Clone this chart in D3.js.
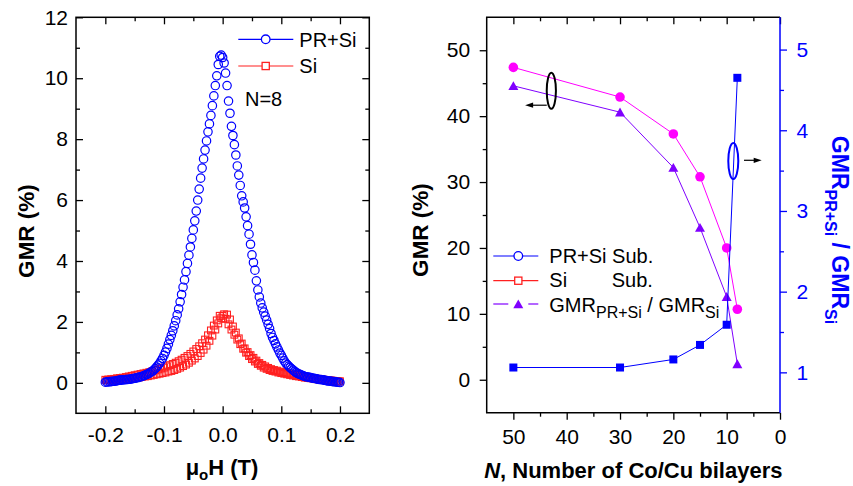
<!DOCTYPE html>
<html>
<head>
<meta charset="utf-8">
<script src="https://cdn.jsdelivr.net/npm/d3@7"></script>
<style>
  body { margin: 0; background: #fff; }
  svg { font-family: "Liberation Sans", Arial, Helvetica, sans-serif; }
</style>
</head>
<body>
<svg id="chart" width="853" height="486"></svg>
<script>
// ---------- Left panel: GMR vs applied field, N = 8 ----------
// Two field sweeps, sampled every 5 mT, interleaved by 2.5 mT
const fieldSweepA = [-0.2,-0.195,-0.19,-0.185,-0.18,-0.175,-0.17,-0.165,-0.16,-0.155,-0.15,-0.145,-0.14,-0.135,-0.13,-0.125,-0.12,-0.115,-0.11,-0.105,-0.1,-0.095,-0.09,-0.085,-0.08,-0.075,-0.07,-0.065,-0.06,-0.055,-0.05,-0.045,-0.04,-0.035,-0.03,-0.025,-0.02,-0.015,-0.01,-0.005,0,0.005,0.01,0.015,0.02,0.025,0.03,0.035,0.04,0.045,0.05,0.055,0.06,0.065,0.07,0.075,0.08,0.085,0.09,0.095,0.1,0.105,0.11,0.115,0.12,0.125,0.13,0.135,0.14,0.145,0.15,0.155,0.16,0.165,0.17,0.175,0.18,0.185,0.19,0.195,0.2];
const fieldSweepB = [-0.1975,-0.1925,-0.1875,-0.1825,-0.1775,-0.1725,-0.1675,-0.1625,-0.1575,-0.1525,-0.1475,-0.1425,-0.1375,-0.1325,-0.1275,-0.1225,-0.1175,-0.1125,-0.1075,-0.1025,-0.0975,-0.0925,-0.0875,-0.0825,-0.0775,-0.0725,-0.0675,-0.0625,-0.0575,-0.0525,-0.0475,-0.0425,-0.0375,-0.0325,-0.0275,-0.0225,-0.0175,-0.0125,-0.0075,-0.0025,0.0025,0.0075,0.0125,0.0175,0.0225,0.0275,0.0325,0.0375,0.0425,0.0475,0.0525,0.0575,0.0625,0.0675,0.0725,0.0775,0.0825,0.0875,0.0925,0.0975,0.1025,0.1075,0.1125,0.1175,0.1225,0.1275,0.1325,0.1375,0.1425,0.1475,0.1525,0.1575,0.1625,0.1675,0.1725,0.1775,0.1825,0.1875,0.1925,0.1975];

const gmrPRSiSweepA = [
  0.02,0.03,0.04,0.05,0.07,0.09,0.10,0.11,0.12,0.13,
  0.15,0.17,0.20,0.23,0.27,0.32,0.38,0.47,0.58,0.72,
  0.90,1.13,1.42,1.71,2.04,2.43,2.90,3.38,3.92,4.46,
  5.02,5.64,6.36,7.05,7.64,8.24,8.78,9.42,10.08,10.72,
  10.68,10.17,9.25,8.42,7.82,7.12,6.48,5.94,5.45,4.88,
  4.20,3.70,3.05,2.62,2.32,2.06,1.78,1.49,1.28,1.08,
  0.90,0.72,0.60,0.50,0.42,0.34,0.29,0.25,0.21,0.19,
  0.17,0.15,0.13,0.11,0.10,0.08,0.06,0.05,0.04,0.02,
  0.01];
const gmrPRSiSweepB = [
  0.03,0.04,0.05,0.06,0.08,0.09,0.10,0.11,0.12,0.14,
  0.16,0.18,0.21,0.25,0.29,0.35,0.42,0.52,0.64,0.80,
  1.01,1.27,1.56,1.87,2.23,2.66,3.14,3.65,4.19,4.74,
  5.32,6.00,6.72,7.35,7.94,8.50,9.10,9.76,10.45,10.76,
  10.50,9.76,8.85,8.12,7.48,6.82,6.14,5.74,5.16,4.55,
  3.95,3.35,2.82,2.46,2.19,1.92,1.62,1.39,1.18,0.98,
  0.81,0.65,0.55,0.46,0.38,0.31,0.27,0.23,0.20,0.18,
  0.16,0.14,0.12,0.11,0.09,0.07,0.06,0.04,0.03,0.02];
const gmrSiSweepA = [
  0.10,0.11,0.12,0.13,0.15,0.16,0.17,0.19,0.21,0.23,
  0.25,0.27,0.29,0.31,0.33,0.35,0.38,0.41,0.44,0.47,
  0.50,0.54,0.58,0.62,0.66,0.71,0.76,0.82,0.88,0.95,
  1.03,1.11,1.20,1.30,1.42,1.56,1.72,1.88,2.05,2.20,
  2.20,2.10,1.92,1.75,1.58,1.42,1.27,1.12,0.99,0.88,
  0.78,0.70,0.62,0.56,0.50,0.46,0.42,0.39,0.37,0.34,
  0.32,0.30,0.28,0.26,0.24,0.22,0.21,0.19,0.17,0.16,
  0.15,0.14,0.12,0.11,0.10,0.09,0.08,0.07,0.06,0.05,
  0.05];
const gmrSiSweepB = [
  0.08,0.09,0.09,0.10,0.11,0.12,0.13,0.14,0.15,0.16,
  0.17,0.18,0.20,0.21,0.22,0.24,0.26,0.28,0.30,0.32,
  0.34,0.37,0.39,0.42,0.46,0.50,0.55,0.60,0.66,0.73,
  0.80,0.88,0.98,1.09,1.22,1.38,1.55,1.75,1.95,2.12,
  2.25,2.24,2.08,1.85,1.65,1.46,1.29,1.13,1.01,0.91,
  0.82,0.73,0.65,0.59,0.54,0.49,0.45,0.42,0.40,0.37,
  0.35,0.33,0.31,0.28,0.26,0.24,0.22,0.20,0.19,0.17,
  0.16,0.14,0.13,0.12,0.10,0.09,0.08,0.07,0.06,0.05];

const fieldTicks = [-0.2, -0.1, 0.0, 0.1, 0.2];
const fieldMinorTicks = [-0.15, -0.05, 0.05, 0.15];
const gmrFieldTicks = [0, 2, 4, 6, 8, 10, 12];
const gmrFieldMinorTicks = [1, 3, 5, 7, 9, 11];
const fieldLegend = ["PR+Si", "Si"];

// ---------- Right panel: GMR vs number of Co/Cu bilayers ----------
const nBilayers = [50, 30, 20, 15, 10, 8];
const gmrPRSiSub = [47.4, 42.9, 37.3, 30.8, 20.0, 10.7];
const gmrSiSub = [44.6, 40.6, 32.2, 23.1, 12.6, 2.4];
const gmrRatio = [1.06, 1.06, 1.16, 1.34, 1.59, 4.65];

const nTicks = [50, 40, 30, 20, 10, 0];
const nMinorTicks = [45, 35, 25, 15, 5];
const gmrNTicks = [0, 10, 20, 30, 40, 50];
const gmrNMinorTicks = [5, 15, 25, 35, 45];
const ratioTicks = [1, 2, 3, 4, 5];
const ratioMinorTicks = [1.5, 2.5, 3.5, 4.5];

// ---------- drawing ----------
const svg = d3.select("#chart");
const FONT = '"Liberation Sans", Arial, Helvetica, sans-serif';
const BLUE = "#0000ff", RED = "#ff2020", MAGENTA = "#ff00ff", PURPLE = "#8000ff";

const L = { x0: 76, x1: 369.3, y0: 17.3, y1: 413.3 };
const R = { x0: 486.7, x1: 780, y0: 17.3, y1: 412.7 };

function styleAxis(g, color, size) {
  g.attr("font-size", null).attr("font-family", null);
  g.select(".domain").remove();
  g.selectAll(".tick line").attr("stroke", color).attr("stroke-width", 1.3);
  g.selectAll(".tick text").attr("fill", color).attr("font-size", size).attr("font-family", FONT);
  return g;
}

function addAxis(axis, tx, ty, color, size) {
  const g = svg.append("g").attr("transform", `translate(${tx},${ty})`).call(axis);
  return styleAxis(g, color || "#000", size || 21);
}

// ----- left panel -----
const xH = d3.scaleLinear().domain([-0.25, 0.25]).range([L.x0, L.x1]);
const yG = d3.scaleLinear().domain([-1, 12]).range([L.y1, L.y0]);

addAxis(d3.axisBottom(xH).tickValues(fieldTicks).tickSizeInner(-7).tickSizeOuter(0)
  .tickPadding(14).tickFormat(d => d.toFixed(1)), 0, L.y1);
addAxis(d3.axisBottom(xH).tickValues(fieldMinorTicks).tickSizeInner(-4).tickSizeOuter(0).tickFormat(""), 0, L.y1);
addAxis(d3.axisTop(xH).tickValues(fieldTicks).tickSizeInner(-7).tickSizeOuter(0).tickFormat(""), 0, L.y0);
addAxis(d3.axisTop(xH).tickValues(fieldMinorTicks).tickSizeInner(-4).tickSizeOuter(0).tickFormat(""), 0, L.y0);
addAxis(d3.axisLeft(yG).tickValues(gmrFieldTicks).tickSizeInner(-7).tickSizeOuter(0)
  .tickPadding(8).tickFormat(d3.format("d")), L.x0, 0);
addAxis(d3.axisLeft(yG).tickValues(gmrFieldMinorTicks).tickSizeInner(-4).tickSizeOuter(0).tickFormat(""), L.x0, 0);
addAxis(d3.axisRight(yG).tickValues(gmrFieldTicks).tickSizeInner(-7).tickSizeOuter(0).tickFormat(""), L.x1, 0);
addAxis(d3.axisRight(yG).tickValues(gmrFieldMinorTicks).tickSizeInner(-4).tickSizeOuter(0).tickFormat(""), L.x1, 0);

svg.append("rect").attr("x", L.x0).attr("y", L.y0)
  .attr("width", L.x1 - L.x0).attr("height", L.y1 - L.y0)
  .attr("fill", "none").attr("stroke", "#000").attr("stroke-width", 1.5);

const pairs = (xs, ys) => xs.map((x, i) => [x, ys[i]]);
const siPts = pairs(fieldSweepA, gmrSiSweepA).concat(pairs(fieldSweepB, gmrSiSweepB));
const prPts = pairs(fieldSweepA, gmrPRSiSweepA).concat(pairs(fieldSweepB, gmrPRSiSweepB));

svg.append("g").selectAll("rect").data(siPts).join("rect")
  .attr("x", d => xH(d[0]) - 3.4).attr("y", d => yG(d[1]) - 3.4)
  .attr("width", 6.8).attr("height", 6.8)
  .attr("fill", "none").attr("stroke", RED).attr("stroke-width", 1.1);

svg.append("g").selectAll("circle").data(prPts).join("circle")
  .attr("cx", d => xH(d[0])).attr("cy", d => yG(d[1])).attr("r", 4.2)
  .attr("fill", "none").attr("stroke", BLUE).attr("stroke-width", 1.2);

// legend (left)
const legL = svg.append("g");
[[BLUE, 39.3, 46.7], [RED, 66, 72.7]].forEach(([c, ly, ty], i) => {
  legL.append("line").attr("x1", 238.3).attr("x2", 293.3).attr("y1", ly).attr("y2", ly)
    .attr("stroke", c).attr("stroke-width", 1.2);
  if (i === 0) {
    legL.append("circle").attr("cx", 265.7).attr("cy", ly).attr("r", 4.3)
      .attr("fill", "#fff").attr("stroke", c).attr("stroke-width", 1.3);
  } else {
    legL.append("rect").attr("x", 265.7 - 3.6).attr("y", ly - 3.6).attr("width", 7.2).attr("height", 7.2)
      .attr("fill", "#fff").attr("stroke", c).attr("stroke-width", 1.3);
  }
  legL.append("text").attr("x", 299.3).attr("y", ty).attr("font-size", 20)
    .attr("font-family", FONT).text(fieldLegend[i]);
});
svg.append("text").attr("x", 245).attr("y", 106).attr("font-size", 20)
  .attr("font-family", FONT).text("N=8");

// axis titles (left)
const xtL = svg.append("text").attr("x", 222).attr("y", 475).attr("text-anchor", "middle")
  .attr("font-size", 22).attr("font-weight", "bold").attr("font-family", FONT);
xtL.append("tspan").text("μ");
xtL.append("tspan").attr("font-size", 15).attr("dy", 5).text("o");
xtL.append("tspan").attr("dy", -5).text("H (T)");

svg.append("text").attr("transform", "translate(34,231) rotate(-90)")
  .attr("text-anchor", "middle").attr("font-size", 22.5).attr("font-weight", "bold")
  .attr("font-family", FONT).text("GMR (%)");

// ----- right panel -----
const xN = d3.scaleLinear().domain([55, 0]).range([R.x0, R.x1]);
const yL = d3.scaleLinear().domain([-5, 55]).range([R.y1, R.y0]);
const yR = d3.scaleLinear().domain([0.5, 5.4]).range([R.y1, R.y0]);

addAxis(d3.axisBottom(xN).tickValues(nTicks).tickSizeInner(7).tickSizeOuter(0)
  .tickPadding(9).tickFormat(d3.format("d")), 0, R.y1);
addAxis(d3.axisBottom(xN).tickValues(nMinorTicks).tickSizeInner(4).tickSizeOuter(0).tickFormat(""), 0, R.y1);
addAxis(d3.axisTop(xN).tickValues(nTicks).tickSizeInner(-7).tickSizeOuter(0).tickFormat(""), 0, R.y0);
addAxis(d3.axisTop(xN).tickValues(nMinorTicks).tickSizeInner(-4).tickSizeOuter(0).tickFormat(""), 0, R.y0);
addAxis(d3.axisLeft(yL).tickValues(gmrNTicks).tickSizeInner(7).tickSizeOuter(0)
  .tickPadding(9.5).tickFormat(d3.format("d")), R.x0, 0);
addAxis(d3.axisLeft(yL).tickValues(gmrNMinorTicks).tickSizeInner(4).tickSizeOuter(0).tickFormat(""), R.x0, 0);
addAxis(d3.axisRight(yR).tickValues(ratioTicks).tickSizeInner(7).tickSizeOuter(0)
  .tickPadding(9.5).tickFormat(d3.format("d")), R.x1, 0, BLUE);
addAxis(d3.axisRight(yR).tickValues(ratioMinorTicks).tickSizeInner(4).tickSizeOuter(0).tickFormat(""), R.x1, 0, BLUE);

svg.append("path")
  .attr("d", `M${R.x1},${R.y0}H${R.x0}V${R.y1}H${R.x1}`)
  .attr("fill", "none").attr("stroke", "#000").attr("stroke-width", 1.5);
svg.append("line").attr("x1", R.x1).attr("x2", R.x1).attr("y1", R.y0).attr("y2", R.y1)
  .attr("stroke", BLUE).attr("stroke-width", 1.5);

const triPath = "M0,-4.6L5,4.2L-5,4.2Z";

// GMR on PR+Si substrate (magenta circles)
svg.append("path").datum(nBilayers.map((n, i) => [n, gmrPRSiSub[i]]))
  .attr("d", d3.line().x(d => xN(d[0])).y(d => yL(d[1])))
  .attr("fill", "none").attr("stroke", MAGENTA).attr("stroke-width", 1);
svg.append("g").selectAll("circle").data(nBilayers.map((n, i) => [n, gmrPRSiSub[i]])).join("circle")
  .attr("cx", d => xN(d[0])).attr("cy", d => yL(d[1])).attr("r", 4.8).attr("fill", MAGENTA);

// GMR on Si substrate (purple triangles)
svg.append("path").datum(nBilayers.map((n, i) => [n, gmrSiSub[i]]))
  .attr("d", d3.line().x(d => xN(d[0])).y(d => yL(d[1])))
  .attr("fill", "none").attr("stroke", PURPLE).attr("stroke-width", 1);
svg.append("g").selectAll("path").data(nBilayers.map((n, i) => [n, gmrSiSub[i]])).join("path")
  .attr("transform", d => `translate(${xN(d[0])},${yL(d[1])})`).attr("d", triPath).attr("fill", PURPLE);

// ratio (blue squares, right axis)
svg.append("path").datum(nBilayers.map((n, i) => [n, gmrRatio[i]]))
  .attr("d", d3.line().x(d => xN(d[0])).y(d => yR(d[1])))
  .attr("fill", "none").attr("stroke", BLUE).attr("stroke-width", 1);
svg.append("g").selectAll("rect").data(nBilayers.map((n, i) => [n, gmrRatio[i]])).join("rect")
  .attr("x", d => xN(d[0]) - 4).attr("y", d => yR(d[1]) - 4)
  .attr("width", 8).attr("height", 8).attr("fill", BLUE);

// axis-assignment markers: ellipses with arrows
function arrow(x1, x2, y) {
  const dir = Math.sign(x2 - x1);
  svg.append("line").attr("x1", x1).attr("x2", x2 - dir * 5).attr("y1", y).attr("y2", y)
    .attr("stroke", "#000").attr("stroke-width", 1.2);
  svg.append("path").attr("d", `M${x2},${y}L${x2 - dir * 8},${y - 2.6}L${x2 - dir * 8},${y + 2.6}Z`)
    .attr("fill", "#000");
}
svg.append("ellipse").attr("cx", xN(42.88)).attr("cy", yL(43.84)).attr("rx", 4.6).attr("ry", 18)
  .attr("fill", "none").attr("stroke", "#000").attr("stroke-width", 2);
arrow(xN(43.74), xN(47.8), yL(41.66));
svg.append("ellipse").attr("cx", xN(8.76)).attr("cy", yR(3.62)).attr("rx", 5).attr("ry", 18)
  .attr("fill", "none").attr("stroke", BLUE).attr("stroke-width", 2);
arrow(xN(6.75), xN(3.43), yR(3.628));

// legend (right)
const legR = svg.append("g").attr("font-family", FONT).attr("font-size", 20);
legR.append("line").attr("x1", 493.3).attr("x2", 538.3).attr("y1", 256).attr("y2", 256)
  .attr("stroke", BLUE).attr("stroke-width", 1.2);
legR.append("circle").attr("cx", 518.3).attr("cy", 256).attr("r", 4.3)
  .attr("fill", "#fff").attr("stroke", BLUE).attr("stroke-width", 1.3);
legR.append("text").attr("x", 549.3).attr("y", 262.7).text("PR+Si Sub.");

legR.append("line").attr("x1", 493.3).attr("x2", 538.3).attr("y1", 280.7).attr("y2", 280.7)
  .attr("stroke", RED).attr("stroke-width", 1.2);
legR.append("rect").attr("x", 518.3 - 3.6).attr("y", 280.7 - 3.6).attr("width", 7.2).attr("height", 7.2)
  .attr("fill", "#fff").attr("stroke", RED).attr("stroke-width", 1.3);
legR.append("text").attr("x", 549.3).attr("y", 287.3).text("Si");
legR.append("text").attr("x", 611.7).attr("y", 287.3).text("Sub.");

legR.append("line").attr("x1", 493.3).attr("x2", 508.3).attr("y1", 304).attr("y2", 304)
  .attr("stroke", PURPLE).attr("stroke-width", 1.2);
legR.append("line").attr("x1", 528.3).attr("x2", 538.3).attr("y1", 304).attr("y2", 304)
  .attr("stroke", PURPLE).attr("stroke-width", 1.2);
legR.append("path").attr("transform", "translate(518.3,304)").attr("d", triPath).attr("fill", PURPLE);
const lt = legR.append("text").attr("x", 549.3).attr("y", 311.7);
lt.append("tspan").text("GMR");
lt.append("tspan").attr("font-size", 16).attr("dy", 6.5).text("PR+Si");
lt.append("tspan").attr("dy", -6.5).text(" / GMR");
lt.append("tspan").attr("font-size", 16).attr("dy", 6.5).text("Si");

// axis titles (right)
const xtR = svg.append("text").attr("x", 633.3).attr("y", 478.3).attr("text-anchor", "middle")
  .attr("font-size", 22).attr("font-weight", "bold").attr("font-family", FONT);
xtR.append("tspan").attr("font-style", "italic").text("N");
xtR.append("tspan").text(", Number of Co/Cu bilayers");

svg.append("text").attr("transform", "translate(428,230) rotate(-90)")
  .attr("text-anchor", "middle").attr("font-size", 22.5).attr("font-weight", "bold")
  .attr("font-family", FONT).text("GMR (%)");

const yt = svg.append("text").attr("transform", "translate(832,230) rotate(90)")
  .attr("text-anchor", "middle").attr("font-size", 23).attr("font-weight", "bold")
  .attr("font-family", FONT).attr("fill", BLUE);
yt.append("tspan").text("GMR");
yt.append("tspan").attr("font-size", 16).attr("dy", 7).text("PR+Si");
yt.append("tspan").attr("dy", -7).text(" / GMR");
yt.append("tspan").attr("font-size", 16).attr("dy", 7).text("Si");
</script>
</body>
</html>
